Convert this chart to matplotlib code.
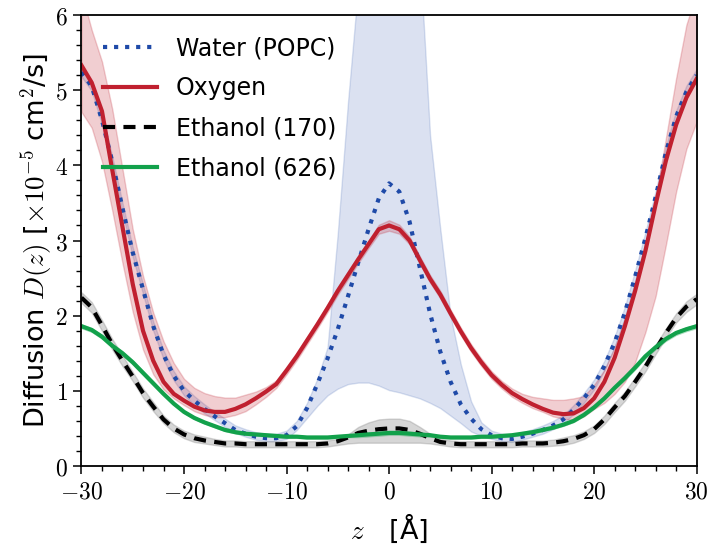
import numpy as np
import matplotlib
matplotlib.use("Agg")
import matplotlib.pyplot as plt
from matplotlib.ticker import MultipleLocator, FuncFormatter

# z grid [Angstrom], one value per Angstrom from -30 to 30
z = np.arange(-30, 31)

water = [5.24, 5.05, 4.60, 4.05, 3.43, 2.84, 2.35, 1.86, 1.48, 1.20,
         1.00, 0.87, 0.76, 0.66, 0.57, 0.48, 0.43, 0.39, 0.37, 0.37,
         0.41, 0.53, 0.77, 1.09, 1.43, 1.82, 2.26, 2.71, 3.15, 3.56,
         3.76, 3.65, 3.25, 2.64, 2.03, 1.52, 1.12, 0.82, 0.63, 0.49,
         0.41, 0.37, 0.36, 0.39, 0.43, 0.48, 0.54, 0.62, 0.75, 0.90,
         1.08, 1.33, 1.64, 2.04, 2.52, 3.03, 3.58, 4.17, 4.65, 4.98, 5.20]
water_hi = [5.32, 5.13, 4.68, 4.12, 3.50, 2.91, 2.42, 1.92, 1.54, 1.26,
            1.06, 0.93, 0.82, 0.72, 0.63, 0.54, 0.49, 0.45, 0.43, 0.43,
            0.47, 0.60, 0.84, 1.16, 1.58, 3.10, 4.85, 6.40, 7.50, 7.50,
            7.50, 7.50, 7.50, 6.80, 4.40, 3.15, 2.00, 1.35, 0.86, 0.58,
            0.47, 0.43, 0.42, 0.45, 0.49, 0.54, 0.60, 0.68, 0.81, 0.97,
            1.15, 1.40, 1.72, 2.12, 2.60, 3.11, 3.66, 4.25, 4.73, 5.06, 5.28]
water_lo = [5.18, 4.99, 4.54, 3.99, 3.37, 2.78, 2.29, 1.80, 1.42, 1.14,
            0.94, 0.81, 0.70, 0.61, 0.52, 0.44, 0.39, 0.35, 0.33, 0.33,
            0.36, 0.48, 0.64, 0.80, 0.94, 1.03, 1.09, 1.11, 1.11, 1.07,
            1.01, 0.98, 0.94, 0.90, 0.84, 0.77, 0.67, 0.57, 0.46, 0.40,
            0.36, 0.33, 0.32, 0.35, 0.39, 0.43, 0.49, 0.57, 0.69, 0.84,
            1.02, 1.27, 1.58, 1.98, 2.46, 2.97, 3.52, 4.11, 4.59, 4.92, 5.14]

oxygen = [5.33, 5.10, 4.72, 3.94, 3.18, 2.42, 1.80, 1.40, 1.12, 0.96,
          0.87, 0.79, 0.74, 0.72, 0.72, 0.76, 0.82, 0.90, 0.99, 1.09,
          1.27, 1.46, 1.67, 1.88, 2.10, 2.33, 2.54, 2.75, 2.95, 3.15,
          3.20, 3.15, 3.00, 2.74, 2.49, 2.28, 2.03, 1.79, 1.57, 1.38,
          1.21, 1.08, 0.97, 0.89, 0.82, 0.76, 0.71, 0.69, 0.70, 0.77,
          0.90, 1.12, 1.44, 1.86, 2.33, 2.86, 3.48, 4.06, 4.54, 4.90, 5.15]
oxygen_hi = [6.30, 5.80, 5.38, 4.75, 3.95, 3.15, 2.53, 2.04, 1.66, 1.37,
             1.16, 1.04, 0.97, 0.93, 0.91, 0.91, 0.95, 0.99, 1.05, 1.14,
             1.32, 1.51, 1.72, 1.93, 2.15, 2.38, 2.59, 2.80, 3.00, 3.21,
             3.27, 3.21, 3.05, 2.79, 2.54, 2.33, 2.08, 1.84, 1.62, 1.43,
             1.26, 1.13, 1.03, 0.96, 0.92, 0.90, 0.88, 0.88, 0.90, 0.93,
             1.08, 1.28, 1.58, 1.96, 2.42, 2.94, 3.57, 4.36, 5.16, 5.87, 6.30]
oxygen_lo = [4.71, 4.50, 4.05, 3.40, 2.70, 2.05, 1.55, 1.22, 1.02, 0.90,
             0.81, 0.73, 0.68, 0.65, 0.65, 0.68, 0.73, 0.82, 0.92, 1.04,
             1.22, 1.41, 1.62, 1.83, 2.05, 2.28, 2.49, 2.70, 2.90, 3.09,
             3.13, 3.09, 2.95, 2.69, 2.44, 2.23, 1.98, 1.74, 1.52, 1.33,
             1.16, 1.03, 0.92, 0.84, 0.77, 0.72, 0.66, 0.63, 0.61, 0.66,
             0.76, 0.84, 0.96, 1.12, 1.38, 1.78, 2.26, 2.94, 3.65, 4.22, 4.58]

eth170 = [2.24, 2.11, 1.87, 1.62, 1.40, 1.19, 0.97, 0.79, 0.62, 0.50,
          0.42, 0.37, 0.34, 0.32, 0.30, 0.30, 0.29, 0.29, 0.29, 0.29,
          0.29, 0.29, 0.29, 0.29, 0.30, 0.33, 0.38, 0.44, 0.47, 0.49,
          0.50, 0.50, 0.48, 0.43, 0.37, 0.32, 0.30, 0.29, 0.29, 0.29,
          0.29, 0.29, 0.29, 0.30, 0.30, 0.30, 0.31, 0.33, 0.36, 0.41,
          0.49, 0.62, 0.78, 0.93, 1.12, 1.32, 1.55, 1.77, 1.97, 2.12, 2.22]
eth170_hi = [2.31, 2.18, 1.94, 1.69, 1.47, 1.25, 1.03, 0.85, 0.67, 0.55,
             0.47, 0.42, 0.39, 0.36, 0.34, 0.34, 0.33, 0.33, 0.33, 0.33,
             0.33, 0.33, 0.33, 0.33, 0.34, 0.36, 0.42, 0.52, 0.58, 0.62,
             0.63, 0.63, 0.60, 0.52, 0.43, 0.36, 0.34, 0.33, 0.33, 0.33,
             0.33, 0.33, 0.33, 0.34, 0.34, 0.34, 0.35, 0.38, 0.41, 0.46,
             0.54, 0.67, 0.84, 0.99, 1.18, 1.38, 1.61, 1.83, 2.03, 2.19, 2.29]
eth170_lo = [2.17, 2.04, 1.80, 1.55, 1.33, 1.13, 0.91, 0.73, 0.57, 0.45,
             0.37, 0.32, 0.30, 0.28, 0.26, 0.26, 0.25, 0.25, 0.25, 0.25,
             0.25, 0.25, 0.25, 0.25, 0.26, 0.28, 0.30, 0.31, 0.31, 0.31,
             0.31, 0.31, 0.31, 0.31, 0.30, 0.28, 0.26, 0.25, 0.25, 0.25,
             0.25, 0.25, 0.25, 0.26, 0.26, 0.26, 0.27, 0.28, 0.31, 0.36,
             0.44, 0.56, 0.72, 0.87, 1.06, 1.26, 1.49, 1.71, 1.91, 2.05, 2.15]

eth626 = [1.86, 1.81, 1.72, 1.60, 1.50, 1.38, 1.24, 1.10, 0.96, 0.83,
          0.72, 0.64, 0.58, 0.53, 0.48, 0.45, 0.43, 0.42, 0.41, 0.40,
          0.39, 0.39, 0.38, 0.38, 0.38, 0.39, 0.40, 0.41, 0.42, 0.43,
          0.44, 0.44, 0.43, 0.42, 0.41, 0.39, 0.38, 0.38, 0.38, 0.39,
          0.39, 0.40, 0.41, 0.43, 0.45, 0.48, 0.51, 0.55, 0.60, 0.68,
          0.78, 0.90, 1.04, 1.17, 1.31, 1.46, 1.58, 1.69, 1.77, 1.82, 1.86]
eth626_err = [0.03, 0.03, 0.03, 0.03, 0.03, 0.03, 0.03, 0.03, 0.02, 0.02,
              0.02, 0.02, 0.02, 0.02, 0.02, 0.02, 0.02, 0.02, 0.02, 0.02,
              0.02, 0.02, 0.02, 0.02, 0.02, 0.02, 0.02, 0.03, 0.03, 0.03,
              0.03, 0.03, 0.03, 0.03, 0.02, 0.02, 0.02, 0.02, 0.02, 0.02,
              0.02, 0.02, 0.02, 0.02, 0.02, 0.02, 0.02, 0.02, 0.02, 0.02,
              0.02, 0.02, 0.02, 0.03, 0.03, 0.03, 0.03, 0.03, 0.03, 0.03, 0.03]

labels = ["Water (POPC)", "Oxygen", "Ethanol (170)", "Ethanol (626)"]

c_water = "#1f4aa8"
c_oxy = "#c0202f"
c_e170 = "black"
c_e626 = "#12a14b"

plt.rcParams["font.family"] = ["DejaVu Sans"]
plt.rcParams["mathtext.fontset"] = "cm"

fig = plt.figure(figsize=(7.11, 5.46), dpi=100)
ax = fig.add_axes([0.1146, 0.1465, 0.8652, 0.826])

# bandes d'incertitude
ax.fill_between(z, water_lo, water_hi, color=c_water, alpha=0.16, lw=1)
ax.fill_between(z, oxygen_lo, oxygen_hi, color=c_oxy, alpha=0.22, lw=1)
ax.fill_between(z, eth170_lo, eth170_hi, color="0.55", alpha=0.35, lw=1)
e626 = np.array(eth626)
err = np.array(eth626_err)
ax.fill_between(z, e626 - err, e626 + err, color=c_e626, alpha=0.25, lw=0.5)

# courbes
lw = 3.0
ax.plot(z, water, ":", color=c_water, lw=lw, label=labels[0])
ax.plot(z, oxygen, "-", color=c_oxy, lw=lw, label=labels[1])
ax.plot(z, eth170, "--", color=c_e170, lw=lw, dashes=(2.9, 2.0), label=labels[2])
ax.plot(z, eth626, "-", color=c_e626, lw=lw, label=labels[3])

ax.set_xlim(-30, 30)
ax.set_ylim(0, 6)
ax.xaxis.set_major_locator(MultipleLocator(10))
ax.xaxis.set_minor_locator(MultipleLocator(2))
ax.yaxis.set_major_locator(MultipleLocator(1))
ax.yaxis.set_minor_locator(MultipleLocator(0.2))
fmt = FuncFormatter(lambda v, p: "$%d$" % round(v))
ax.xaxis.set_major_formatter(fmt)
ax.yaxis.set_major_formatter(fmt)
ax.tick_params(which="major", direction="out", length=6, width=1.1, labelsize=17, pad=4)
ax.tick_params(which="minor", direction="out", length=3.5, width=1.0)
for s in ax.spines.values():
    s.set_linewidth(1.3)

ax.set_xlabel(r"$z$   [Å]", fontsize=19.5, labelpad=6)
ax.set_ylabel(r"Diffusion $D(z)$ [$\times 10^{-5}$ cm$^2$/s]", fontsize=19.5, labelpad=0)

ax.legend(loc="upper left", frameon=False, fontsize=17, handlelength=2.3,
          handletextpad=0.8, labelspacing=0.68)

fig.savefig("out.png", dpi=100)
